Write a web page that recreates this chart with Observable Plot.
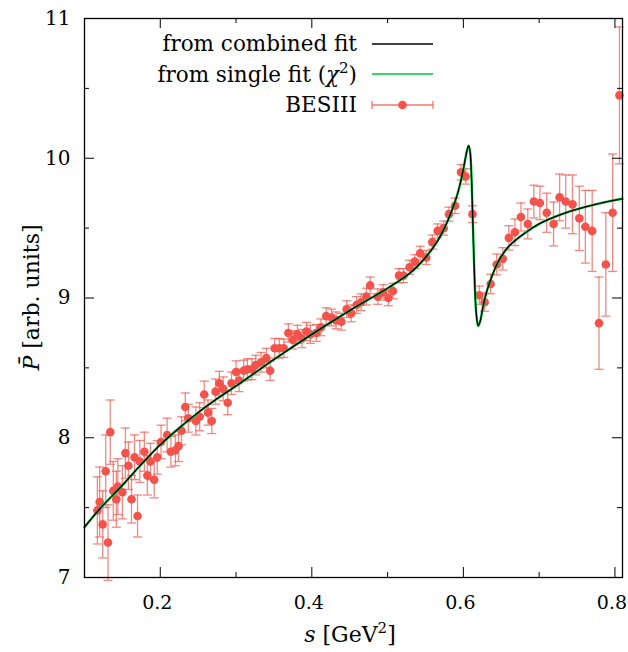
<!DOCTYPE html>
<html><head><meta charset="utf-8">
<script src="https://cdn.jsdelivr.net/npm/d3@7"></script>
<script src="https://cdn.jsdelivr.net/npm/@observablehq/plot@0.6"></script>
<style>body{margin:0;background:#fff}#chart{width:628px;height:652px}</style>
</head><body><div id="chart"></div>
<script>
// BESIII data points: s [GeV^2], P-bar [arb. units], uncertainty
const sVals = [0.117,0.120,0.124,0.128,0.131,0.134,0.138,0.142,0.144,0.150,0.154,0.158,0.162,0.166,0.170,0.173,0.179,0.183,0.187,0.192,0.196,0.201,0.209,0.214,0.220,0.224,0.228,0.233,0.237,0.247,0.252,0.258,0.263,0.268,0.273,0.278,0.283,0.289,0.294,0.300,0.304,0.310,0.315,0.321,0.326,0.333,0.340,0.345,0.351,0.357,0.363,0.369,0.375,0.381,0.387,0.393,0.398,0.406,0.412,0.419,0.426,0.432,0.439,0.446,0.452,0.459,0.465,0.472,0.477,0.487,0.494,0.501,0.507,0.515,0.521,0.529,0.536,0.543,0.551,0.559,0.566,0.574,0.581,0.589,0.597,0.603,0.612,0.621,0.628,0.636,0.644,0.652,0.660,0.668,0.676,0.685,0.693,0.701,0.710,0.719,0.727,0.735,0.744,0.753,0.761,0.770,0.779,0.788,0.797,0.806];
const pVals = [7.48,7.54,7.38,7.76,7.25,8.04,7.62,7.56,7.65,7.61,7.89,7.80,7.56,7.86,7.44,7.83,7.90,7.73,7.83,7.70,7.86,7.97,8.02,7.90,7.91,7.94,8.05,8.22,8.14,8.12,8.15,8.31,8.18,8.12,8.33,8.39,8.35,8.25,8.39,8.47,8.41,8.48,8.49,8.49,8.52,8.54,8.57,8.48,8.64,8.64,8.64,8.75,8.70,8.74,8.71,8.76,8.74,8.75,8.79,8.87,8.86,8.84,8.83,8.92,8.89,8.95,8.97,9.01,9.09,9.01,9.04,9.00,9.05,9.16,9.16,9.22,9.26,9.32,9.29,9.40,9.48,9.50,9.60,9.66,9.90,9.87,9.60,9.02,8.97,9.10,9.24,9.28,9.43,9.47,9.58,9.53,9.69,9.68,9.61,9.53,9.72,9.69,9.67,9.57,9.51,9.48,8.82,9.24,9.61,10.45];
const pErr = [0.24,0.25,0.24,0.26,0.27,0.23,0.21,0.20,0.20,0.19,0.18,0.17,0.17,0.16,0.15,0.15,0.14,0.14,0.13,0.13,0.12,0.12,0.12,0.11,0.11,0.11,0.10,0.10,0.10,0.10,0.10,0.095,0.09,0.09,0.09,0.085,0.085,0.085,0.08,0.08,0.08,0.075,0.075,0.075,0.07,0.07,0.07,0.07,0.07,0.07,0.065,0.065,0.065,0.065,0.065,0.065,0.065,0.06,0.06,0.06,0.06,0.06,0.06,0.06,0.06,0.06,0.06,0.06,0.06,0.055,0.055,0.055,0.055,0.05,0.05,0.05,0.05,0.05,0.05,0.05,0.05,0.05,0.05,0.055,0.055,0.055,0.06,0.065,0.065,0.07,0.075,0.08,0.087,0.095,0.10,0.107,0.117,0.12,0.14,0.157,0.167,0.19,0.21,0.23,0.26,0.29,0.33,0.37,0.42,0.49];
// fit curve (combined fit; single fit coincides visually)
const curveS = [0.100,0.120,0.150,0.175,0.200,0.225,0.250,0.275,0.300,0.350,0.400,0.450,0.500,0.530,0.550,0.565,0.575,0.585,0.592,0.598,0.602,0.605,0.607,0.609,0.611,0.613,0.615,0.617,0.6195,0.622,0.626,0.631,0.638,0.647,0.660,0.680,0.700,0.730,0.760,0.790,0.810];
const curveP = [7.36,7.49,7.66,7.81,7.95,8.07,8.18,8.28,8.37,8.56,8.74,8.91,9.07,9.18,9.29,9.40,9.50,9.63,9.74,9.87,9.98,10.06,10.09,10.04,9.82,9.45,9.10,8.89,8.80,8.83,8.94,9.05,9.16,9.27,9.37,9.46,9.53,9.60,9.65,9.69,9.71];
const xTicksMajor = [0.2,0.4,0.6,0.8];
const xTicksMinor = [0.3,0.5,0.7];
const yTicksMajor = [7,8,9,10,11];
const yTicksMinor = [7.5,8.5,9.5,10.5];
const legendLabels = ["from combined fit","from single fit (χ","BESIII"];

const W=628,H=652,mL=84,mR=6,mT=18,mB=75;
const pw=W-mL-mR, ph=H-mT-mB;
const dotColor="#f4524a", errColor="#f0564c", greenColor="#00c43a";
const FONT="'DejaVu Serif', serif";

const data = sVals.map((s,i)=>({s, p:pVals[i], e:pErr[i]}));
const curve = curveS.map((s,i)=>({s, p:curveP[i]}));
const capSymbol = {draw(ctx){ctx.moveTo(-4.5,0);ctx.lineTo(4.5,0);}};
const maj=10, mnr=5;

const plot = Plot.plot({
  width:W, height:H, marginLeft:mL, marginRight:mR, marginTop:mT, marginBottom:mB,
  style:{fontFamily:FONT, fontSize:"20px", background:"white", color:"black"},
  x:{domain:[0.1,0.81]},
  y:{domain:[7,11]},
  marks:[
    Plot.ruleX(data,{x:"s", y1:d=>d.p-d.e, y2:d=>d.p+d.e, stroke:errColor, strokeOpacity:0.7, strokeWidth:1.3}),
    Plot.dot(data,{x:"s", y:d=>d.p-d.e, symbol:capSymbol, fill:"none", stroke:errColor, strokeOpacity:0.7, strokeWidth:1.3}),
    Plot.dot(data,{x:"s", y:d=>d.p+d.e, symbol:capSymbol, fill:"none", stroke:errColor, strokeOpacity:0.7, strokeWidth:1.3}),
    Plot.dot(data,{x:"s", y:"p", r:4.3, fill:dotColor, stroke:"none"}),
    Plot.line(curve,{x:"s", y:"p", stroke:greenColor, strokeWidth:2.4, curve:"catmull-rom"}),
    Plot.line(curve,{x:"s", y:"p", stroke:"black", strokeWidth:1.3, curve:"catmull-rom"}),
    Plot.tickX(xTicksMajor,{x:d=>d, insetTop:ph-maj, stroke:"black"}),
    Plot.tickX(xTicksMajor,{x:d=>d, insetBottom:ph-maj, stroke:"black"}),
    Plot.tickX(xTicksMinor,{x:d=>d, insetTop:ph-mnr, stroke:"black"}),
    Plot.tickX(xTicksMinor,{x:d=>d, insetBottom:ph-mnr, stroke:"black"}),
    Plot.tickY(yTicksMajor,{y:d=>d, insetRight:pw-maj, stroke:"black"}),
    Plot.tickY(yTicksMajor,{y:d=>d, insetLeft:pw-maj, stroke:"black"}),
    Plot.tickY(yTicksMinor,{y:d=>d, insetRight:pw-mnr, stroke:"black"}),
    Plot.tickY(yTicksMinor,{y:d=>d, insetLeft:pw-mnr, stroke:"black"}),
    Plot.axisX(xTicksMajor,{tickSize:0, tickPadding:18, tickFormat:d=>d.toFixed(1), fontSize:19, dx:-3, label:null}),
    Plot.axisY(yTicksMajor,{tickSize:0, tickPadding:14, tickFormat:d=>String(d), fontSize:20, label:null}),
    Plot.frame({stroke:"black", strokeWidth:1.3})
  ]
});
document.getElementById("chart").appendChild(plot);

const svg = d3.select(plot);
const g = svg.append("g").attr("font-family",FONT).attr("font-size",21.5).attr("fill","black");
// y-axis label
const yl = g.append("text").attr("transform",`translate(39,${mT+ph/2}) rotate(-90)`).attr("text-anchor","middle").attr("font-size",22);
yl.append("tspan").attr("font-style","italic").text("P\u0304");
yl.append("tspan").text(" [arb. units]");
// x-axis label
const xl = g.append("text").attr("x",mL+pw/2-3).attr("y",642).attr("text-anchor","middle").attr("font-size",22);
xl.append("tspan").attr("font-style","italic").text("s");
xl.append("tspan").text(" [GeV");
xl.append("tspan").attr("font-size",15).attr("dy",-9).text("2");
xl.append("tspan").attr("dy",9).text("]");
// legend
const lx0=372, lx1=433, tx=357, rows=[44,74,105];
g.append("text").attr("x",tx).attr("y",rows[0]+7).attr("text-anchor","end").text(legendLabels[0]);
g.append("line").attr("x1",lx0).attr("x2",lx1).attr("y1",rows[0]).attr("y2",rows[0]).attr("stroke","black").attr("stroke-width",1.3);
const t2 = g.append("text").attr("x",tx).attr("y",rows[1]+8).attr("text-anchor","end");
t2.append("tspan").text("from single fit (");
t2.append("tspan").attr("font-style","italic").text("χ");
t2.append("tspan").attr("font-size",15).attr("dy",-9).text("2");
t2.append("tspan").attr("dy",9).text(")");
g.append("line").attr("x1",lx0).attr("x2",lx1).attr("y1",rows[1]).attr("y2",rows[1]).attr("stroke",greenColor).attr("stroke-width",1.3);
g.append("text").attr("x",tx).attr("y",rows[2]+7).attr("text-anchor","end").text(legendLabels[2]);
g.append("line").attr("x1",lx0).attr("x2",lx1).attr("y1",rows[2]).attr("y2",rows[2]).attr("stroke",errColor).attr("stroke-opacity",0.8).attr("stroke-width",1.3);
g.append("line").attr("x1",lx0).attr("x2",lx0).attr("y1",rows[2]-4).attr("y2",rows[2]+4).attr("stroke",errColor).attr("stroke-opacity",0.8).attr("stroke-width",1.3);
g.append("line").attr("x1",lx1).attr("x2",lx1).attr("y1",rows[2]-4).attr("y2",rows[2]+4).attr("stroke",errColor).attr("stroke-opacity",0.8).attr("stroke-width",1.3);
g.append("circle").attr("cx",(lx0+lx1)/2).attr("cy",rows[2]).attr("r",4.3).attr("fill",dotColor);
</script>
</body></html>
